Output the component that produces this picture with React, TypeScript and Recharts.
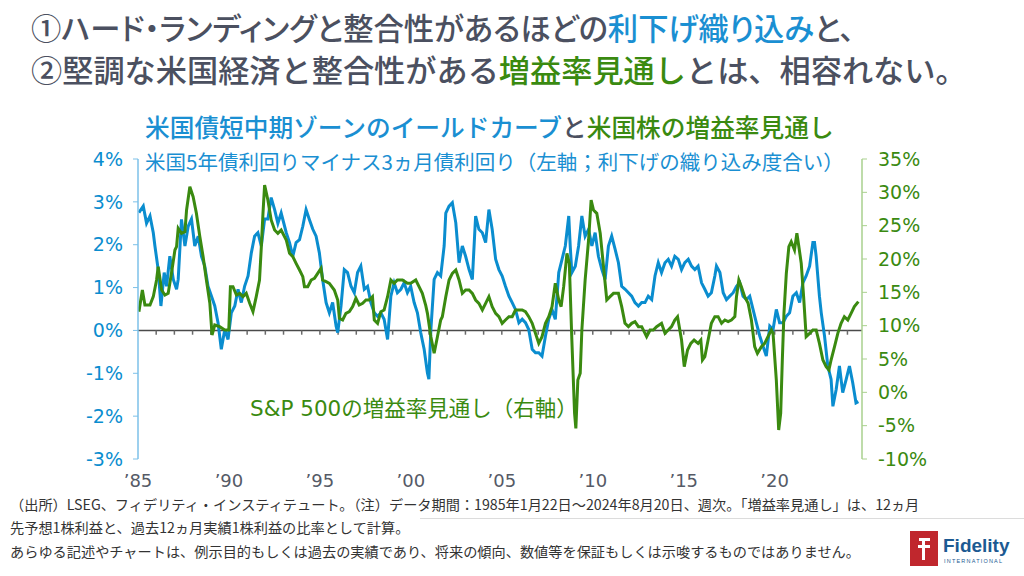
import { LineChart, Line, XAxis, YAxis, ReferenceLine } from "recharts";

// 米国5年債利回り − 3ヵ月債利回り（%、左軸） [year, value]
const yieldCurve: [number, number][] = [
  [1985.05, 2.75], [1985.29, 2.9], [1985.47, 2.5], [1985.66, 2.67], [1985.84, 2.28], [1985.93, 1.97],
  [1986.11, 1.42], [1986.26, 0.57], [1986.44, 1.35], [1986.57, 1.03], [1986.75, 1.73], [1986.94, 1.19],
  [1987.12, 0.96], [1987.21, 1.19], [1987.39, 2.59], [1987.58, 1.97], [1987.76, 2.43], [1987.94, 2.6],
  [1988.12, 1.97], [1988.31, 2.2], [1988.49, 1.73], [1988.67, 1.5], [1988.85, 1.03], [1989.04, 0.8],
  [1989.22, 0.57], [1989.4, 0.18], [1989.58, -0.44], [1989.77, 0.02], [1989.95, -0.21], [1990.13, 0.41],
  [1990.32, 0.57], [1990.5, 0.96], [1990.68, 0.65], [1990.86, 1.03], [1991.05, 1.27], [1991.23, 1.81],
  [1991.41, 2.2], [1991.59, 2.28], [1991.78, 1.97], [1991.96, 2.6], [1992.14, 2.6], [1992.32, 3.1],
  [1992.51, 2.82], [1992.69, 2.5], [1992.87, 2.74], [1993.15, 2.28], [1993.33, 2.05], [1993.51, 1.73],
  [1993.69, 2.05], [1993.88, 2.12], [1994.06, 2.43], [1994.24, 2.82], [1994.42, 2.59], [1994.61, 2.36],
  [1994.79, 2.2], [1994.97, 1.81], [1995.15, 1.19], [1995.34, 0.65], [1995.52, 0.41], [1995.7, 0.65],
  [1995.89, 0.1], [1995.98, -0.05], [1996.16, 0.57], [1996.34, 1.42], [1996.52, 1.35], [1996.71, 1.03],
  [1996.89, 0.88], [1997.07, 1.35], [1997.25, 1.5], [1997.44, 0.96], [1997.62, 1.03], [1997.8, 0.65],
  [1997.99, 0.41], [1998.17, 0.33], [1998.35, 0.41], [1998.53, 0.26], [1998.72, -0.21], [1998.9, 0.8],
  [1999.08, 1.11], [1999.26, 0.88], [1999.45, 0.96], [1999.63, 1.11], [1999.81, 0.88], [1999.99, 1.03],
  [2000.18, 0.65], [2000.36, 0.41], [2000.54, -0.05], [2000.73, -0.44], [2000.91, -0.99], [2000.99, -1.14],
  [2001.1, 0.02], [2001.28, 1.19], [2001.46, 1.35], [2001.64, 1.27], [2001.83, 1.97], [2001.92, 2.74],
  [2002.1, 2.9], [2002.28, 2.98], [2002.47, 2.51], [2002.65, 1.58], [2002.83, 1.97], [2003.01, 1.73],
  [2003.2, 1.42], [2003.38, 1.19], [2003.56, 2.67], [2003.74, 2.36], [2003.93, 2.28], [2004.11, 2.05],
  [2004.29, 2.82], [2004.47, 2.36], [2004.66, 1.66], [2004.84, 1.42], [2005.02, 1.27], [2005.2, 1.03],
  [2005.39, 0.8], [2005.57, 0.65], [2005.75, 0.49], [2005.94, 0.18], [2006.12, 0.26], [2006.3, 0.18],
  [2006.48, 0.02], [2006.67, -0.44], [2006.85, -0.52], [2007.03, -0.52], [2007.21, -0.6], [2007.4, -0.13],
  [2007.58, 0.26], [2007.76, 0.49], [2007.94, 0.26], [2008.13, 1.35], [2008.31, 1.66], [2008.49, 1.97],
  [2008.68, 2.67], [2008.76, 1.97], [2008.85, 1.35], [2009.04, 1.5], [2009.22, 1.97], [2009.4, 2.67],
  [2009.58, 2.2], [2009.77, 2.36], [2009.95, 1.97], [2010.13, 2.28], [2010.31, 1.73], [2010.5, 1.42],
  [2010.68, 1.19], [2010.86, 1.97], [2011.04, 2.2], [2011.23, 1.89], [2011.41, 1.58], [2011.59, 1.03],
  [2011.78, 0.96], [2011.96, 0.88], [2012.14, 0.8], [2012.32, 0.65], [2012.51, 0.57], [2012.69, 0.65],
  [2012.87, 0.65], [2013.05, 0.8], [2013.24, 0.72], [2013.42, 1.27], [2013.6, 1.58], [2013.78, 1.35],
  [2013.97, 1.58], [2014.15, 1.66], [2014.33, 1.5], [2014.51, 1.73], [2014.7, 1.66], [2014.88, 1.42],
  [2015.06, 1.58], [2015.25, 1.66], [2015.43, 1.5], [2015.61, 1.42], [2015.79, 1.5], [2015.98, 1.11],
  [2016.16, 0.96], [2016.34, 0.8], [2016.52, 0.88], [2016.71, 1.27], [2016.8, 1.5], [2016.99, 1.35],
  [2017.17, 0.88], [2017.35, 0.72], [2017.53, 0.8], [2017.72, 0.88], [2017.9, 1.03], [2018.08, 1.11],
  [2018.26, 0.8], [2018.45, 0.72], [2018.63, 0.8], [2018.81, 0.49], [2018.99, 0.18], [2019.18, -0.13],
  [2019.36, -0.37], [2019.54, -0.6], [2019.73, 0.1], [2019.91, 0.02], [2020.09, 0.49], [2020.27, 0.18],
  [2020.46, 0.18], [2020.64, 0.33], [2020.82, 0.41], [2021.0, 0.8], [2021.19, 0.88], [2021.37, 0.65],
  [2021.55, 1.11], [2021.73, 1.27], [2021.92, 1.5], [2022.1, 2.05], [2022.19, 2.05], [2022.28, 1.73],
  [2022.46, 0.8], [2022.56, 0.41], [2022.74, -0.13], [2022.92, -0.83], [2023.1, -1.14], [2023.2, -1.77],
  [2023.38, -1.38], [2023.56, -0.83], [2023.74, -1.45], [2023.93, -1.14], [2024.11, -0.83], [2024.29, -1.22],
  [2024.47, -1.69], [2024.6, -1.66],
];

// S&P 500の増益率見通し（%、右軸） [year, value]
const epsOutlook: [number, number][] = [
  [1985.05, 12.1], [1985.24, 15.35], [1985.38, 13.1], [1985.66, 13.1], [1985.84, 14.35], [1986.02, 16.85],
  [1986.11, 18.85], [1986.3, 15.35], [1986.48, 14.6], [1986.66, 14.85], [1986.84, 17.85], [1987.03, 21.35],
  [1987.12, 21.85], [1987.21, 24.6], [1987.39, 23.85], [1987.58, 24.1], [1987.67, 27.35], [1987.85, 30.85],
  [1988.03, 29.35], [1988.21, 26.85], [1988.4, 23.35], [1988.58, 20.35], [1988.76, 16.85], [1988.95, 13.35],
  [1989.07, 8.6], [1989.22, 10.1], [1989.49, 9.85], [1989.77, 9.35], [1989.99, 9.35], [1990.08, 15.85],
  [1990.22, 15.85], [1990.41, 14.6], [1990.59, 14.85], [1990.77, 14.35], [1990.95, 14.85], [1991.14, 13.35],
  [1991.32, 12.1], [1991.5, 14.35], [1991.68, 16.85], [1991.78, 21.85], [1991.87, 26.85], [1991.96, 31.1],
  [1992.14, 28.85], [1992.32, 25.85], [1992.51, 24.35], [1992.69, 23.85], [1992.87, 24.35], [1993.15, 22.85],
  [1993.33, 20.85], [1993.51, 20.35], [1993.69, 19.35], [1993.88, 18.35], [1994.06, 17.35], [1994.15, 15.85],
  [1994.33, 15.85], [1994.52, 16.85], [1994.7, 17.1], [1994.88, 17.85], [1995.06, 18.6], [1995.15, 16.85],
  [1995.34, 16.6], [1995.52, 16.35], [1995.79, 15.35], [1995.98, 13.85], [1996.07, 11.1], [1996.25, 10.85],
  [1996.43, 11.85], [1996.62, 12.1], [1996.8, 12.85], [1996.98, 14.1], [1997.16, 13.1], [1997.35, 13.35],
  [1997.53, 13.85], [1997.71, 13.85], [1997.89, 14.35], [1997.99, 10.85], [1998.17, 10.35], [1998.35, 12.1],
  [1998.53, 12.35], [1998.72, 14.35], [1998.9, 16.85], [1999.08, 16.35], [1999.26, 16.85], [1999.54, 16.85],
  [1999.81, 16.35], [1999.99, 16.35], [2000.27, 16.85], [2000.45, 15.85], [2000.63, 14.85], [2000.82, 13.0],
  [2000.91, 11.85], [2001.1, 8.35], [2001.28, 5.85], [2001.46, 8.35], [2001.64, 10.85], [2001.73, 11.35],
  [2001.92, 14.35], [2002.1, 16.85], [2002.28, 17.85], [2002.47, 18.35], [2002.65, 16.85], [2002.83, 14.85],
  [2003.01, 15.35], [2003.2, 15.35], [2003.38, 14.85], [2003.56, 13.85], [2003.74, 13.35], [2003.93, 12.35],
  [2004.11, 13.35], [2004.29, 14.35], [2004.47, 12.85], [2004.66, 11.85], [2004.84, 11.35], [2005.02, 10.35],
  [2005.2, 10.85], [2005.39, 11.35], [2005.57, 11.35], [2005.75, 12.35], [2005.94, 12.35], [2006.12, 12.35],
  [2006.3, 12.1], [2006.48, 11.35], [2006.67, 10.35], [2006.85, 8.85], [2007.03, 7.35], [2007.21, 8.35],
  [2007.4, 10.35], [2007.58, 11.35], [2007.76, 12.85], [2007.94, 16.35], [2008.13, 13.85], [2008.26, 12.85],
  [2008.4, 15.85], [2008.58, 20.85], [2008.71, 19.35], [2008.85, 7.85], [2009.0, -3.15], [2009.07, -5.4],
  [2009.18, 1.85], [2009.31, 2.85], [2009.4, 9.35], [2009.58, 16.85], [2009.77, 22.85], [2009.91, 28.85],
  [2010.04, 27.35], [2010.22, 26.85], [2010.41, 23.85], [2010.59, 18.85], [2010.77, 13.85], [2010.95, 14.35],
  [2011.14, 14.85], [2011.41, 14.85], [2011.59, 12.85], [2011.77, 10.35], [2011.96, 9.85], [2012.14, 10.35],
  [2012.32, 10.6], [2012.51, 9.85], [2012.69, 9.85], [2012.96, 8.35], [2013.15, 9.35], [2013.33, 9.35],
  [2013.51, 9.85], [2013.78, 10.35], [2013.97, 8.85], [2014.15, 9.35], [2014.33, 9.85], [2014.51, 10.85],
  [2014.66, 11.35], [2014.88, 7.85], [2015.03, 3.85], [2015.21, 6.35], [2015.39, 7.35], [2015.57, 7.85],
  [2015.79, 7.35], [2015.94, 7.85], [2016.03, 4.85], [2016.16, 5.35], [2016.34, 7.85], [2016.52, 10.35],
  [2016.71, 11.35], [2016.89, 11.35], [2017.08, 10.35], [2017.26, 10.85], [2017.44, 10.6], [2017.62, 10.85],
  [2017.81, 11.35], [2017.9, 14.35], [2018.03, 16.85], [2018.17, 15.85], [2018.35, 14.35], [2018.54, 13.35],
  [2018.72, 10.85], [2018.9, 6.85], [2019.05, 5.85], [2019.27, 6.85], [2019.45, 7.35], [2019.63, 8.35],
  [2019.82, 9.35], [2019.91, 8.85], [2020.09, 1.85], [2020.22, -5.65], [2020.33, -3.15], [2020.42, 4.85],
  [2020.51, 11.85], [2020.64, 17.85], [2020.78, 21.85], [2020.91, 22.6], [2021.09, 21.35], [2021.22, 23.85],
  [2021.33, 21.85], [2021.46, 19.35], [2021.59, 14.35], [2021.73, 8.35], [2021.92, 8.85], [2022.1, 9.35],
  [2022.28, 9.35], [2022.46, 7.35], [2022.65, 4.85], [2022.83, 3.85], [2022.98, 3.35], [2023.1, 4.85],
  [2023.29, 6.85], [2023.47, 8.85], [2023.65, 10.35], [2023.83, 11.35], [2024.02, 10.85], [2024.2, 11.85],
  [2024.38, 12.85], [2024.6, 13.6],
];

const yearLabels = [1985, 1990, 1995, 2000, 2005, 2010, 2015, 2020];
const yearMarks = [1986, 1987, 1988, 1989, 1990, 1991, 1992, 1993, 1994, 1995, 1996, 1997, 1998,
  1999, 2000, 2001, 2002, 2003, 2004, 2005, 2006, 2007, 2008, 2009, 2010, 2011, 2012, 2013,
  2014, 2015, 2016, 2017, 2018, 2019, 2020, 2021, 2022, 2023, 2024];
const leftTicks = [-3, -2, -1, 0, 1, 2, 3, 4];
const rightTicks = [-10, -5, 0, 5, 10, 15, 20, 25, 30, 35];

const BLUE = "#0a8dcf";
const TITLE_BLUE = "#1a8fd2";
const GREEN = "#3a8a10";
const GRAY = "#4b5060";
const JP = "'Noto Sans CJK JP', sans-serif";
const NUM = "'DejaVu Sans', sans-serif";

const txt = (left: number, top: number, size: number, extra: React.CSSProperties = {}): React.CSSProperties => ({
  position: "absolute",
  left,
  top,
  fontSize: size,
  lineHeight: 1,
  whiteSpace: "nowrap",
  fontFamily: JP,
  ...extra,
});

export default function App() {
  const blueData = yieldCurve.map(([t, v]) => ({ t, v }));
  const greenData = epsOutlook.map(([t, v]) => ({ t, v }));

  return (
    <div style={{ position: "absolute", left: 0, top: 0, width: 1024, height: 576, background: "#fff", overflow: "hidden" }}>
      {/* faint divider above the notes */}
      <div style={{ position: "absolute", left: 420, top: 518, width: 604, height: 1, background: "#dcdcdc" }} />

      <div style={{ position: "absolute", left: 0, top: 0 }}>
        <LineChart width={1024} height={576} margin={{ top: 159, right: 0, bottom: 0, left: 0 }}>
          <XAxis
            type="number"
            dataKey="t"
            domain={[1985, 2024.8]}
            ticks={yearLabels}
            tickFormatter={(v: number) => `’${String(v).slice(2)}`}
            allowDataOverflow
            axisLine={false}
            tickLine={false}
            tickSize={0}
            tickMargin={15}
            height={117}
            tick={{ fill: "#555a66", fontSize: 18, fontFamily: NUM }}
          />
          <YAxis
            yAxisId="left"
            domain={[-3, 4]}
            ticks={leftTicks}
            width={138}
            tickFormatter={(v: number) => `${v}%`}
            axisLine={{ stroke: "#7cc0e8", strokeWidth: 1.5 }}
            tickLine={{ stroke: "#7cc0e8" }}
            tickSize={5}
            tickMargin={10}
            tick={{ fill: BLUE, fontSize: 19, fontFamily: NUM }}
          />
          <YAxis
            yAxisId="right"
            orientation="right"
            domain={[-10, 35]}
            ticks={rightTicks}
            width={162}
            tickFormatter={(v: number) => `${v}%`}
            axisLine={{ stroke: "#a9d18e", strokeWidth: 1.5 }}
            tickLine={{ stroke: "#a9d18e" }}
            tickSize={5}
            tickMargin={11}
            tick={{ fill: GREEN, fontSize: 19, fontFamily: NUM }}
          />
          <ReferenceLine yAxisId="left" y={0} stroke="#4a4a4a" strokeWidth={1.5} />
          {yearMarks.map((yr) => (
            <ReferenceLine
              key={yr}
              yAxisId="left"
              segment={[{ x: yr, y: 0 }, { x: yr, y: -0.1 }]}
              stroke="#6a6a6a"
              strokeWidth={1.5}
            />
          ))}
          <Line yAxisId="left" data={blueData} dataKey="v" type="linear" stroke={BLUE} strokeWidth={3} dot={false} isAnimationActive={false} />
          <Line yAxisId="right" data={greenData} dataKey="v" type="linear" stroke={GREEN} strokeWidth={3} dot={false} isAnimationActive={false} />
        </LineChart>
      </div>

      {/* headline */}
      <div style={txt(31, 12, 30.3, { color: GRAY, fontWeight: 500, fontFeatureSettings: '"palt"' })}>
        ①ハード・ランディングと整合性があるほどの<span style={{ color: TITLE_BLUE }}>利下げ織り込み</span>と、
      </div>
      <div style={txt(31, 53, 31.2, { color: GRAY, fontWeight: 500 })}>
        ②堅調な米国経済と整合性がある<span style={{ color: GREEN }}>増益率見通し</span>とは、相容れない。
      </div>

      {/* chart title */}
      <div style={txt(145, 114, 24.7, { color: TITLE_BLUE, fontWeight: 500 })}>
        米国債短中期ゾーンのイールドカーブ<span style={{ color: GRAY }}>と</span>
        <span style={{ color: GREEN }}>米国株の増益率見通し</span>
      </div>
      <div style={txt(145, 151, 20.5, { color: TITLE_BLUE })}>
        米国5年債利回りマイナス3ヵ月債利回り（左軸；利下げの織り込み度合い）
      </div>
      <div style={txt(250, 396, 21.5, { color: GREEN })}>
        <span style={{ fontFamily: NUM }}>S&amp;P 500</span>の増益率見通し（右軸）
      </div>

      {/* notes */}
      <div style={txt(10, 497, 14.2, { color: "#333" })}>
        （出所）LSEG、フィデリティ・インスティテュート。（注）データ期間：1985年1月22日～2024年8月20日、週次。「増益率見通し」は、12ヵ月
      </div>
      <div style={txt(10, 520, 14.2, { color: "#333", background: "#fff" })}>先予想1株利益と、過去12ヵ月実績1株利益の比率として計算。</div>
      <div style={txt(10, 544, 14.2, { color: "#333" })}>
        あらゆる記述やチャートは、例示目的もしくは過去の実績であり、将来の傾向、数値等を保証もしくは示唆するものではありません。
      </div>

      {/* logo */}
      <svg style={{ position: "absolute", left: 910, top: 531 }} width={112} height={36}>
        <rect x={0} y={0} width={28} height={35} fill="#c0272d" />
        <path d="M9 7 H20 V10 H15 V14 H20 V17 H15 V29 H12 V17 H8 V14 H12 V10 H9 Z" fill="#fff" />
        <text x={33} y={21} fontFamily="'Liberation Sans', Arial, sans-serif" fontWeight={700} fontSize={19} fill="#1c5a92">Fidelity</text>
        <text x={34} y={32} fontFamily="'Liberation Sans', Arial, sans-serif" fontSize={5.5} letterSpacing={1.2} fill="#1c5a92">INTERNATIONAL</text>
      </svg>
    </div>
  );
}
